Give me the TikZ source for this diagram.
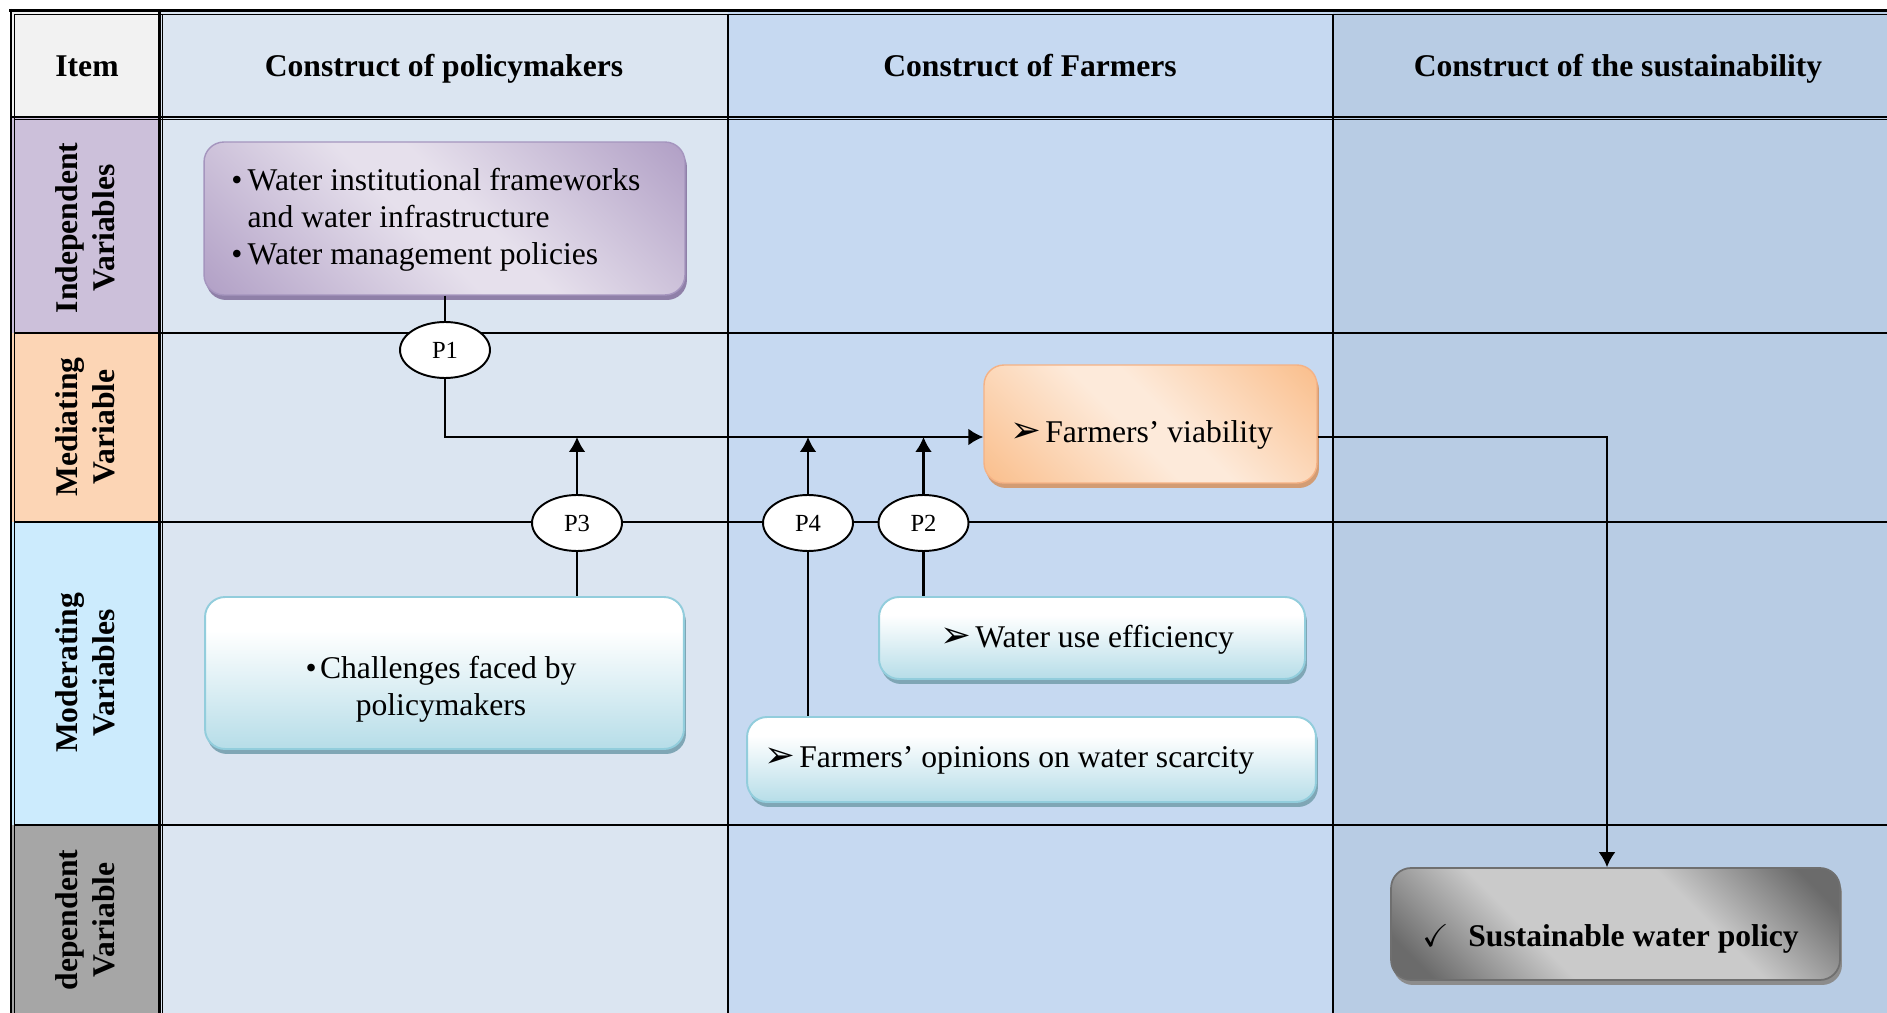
\documentclass[tikz,border=0pt]{standalone}
\usepackage{fontspec}
\setmainfont{Liberation Serif}
\newfontfamily\dejavu{DejaVu Sans}
\usepackage{amssymb}
\usetikzlibrary{arrows.meta,shadows,shapes.geometric}

% table colours
\definecolor{itemhd}{HTML}{F2F2F2}
\definecolor{colA}{HTML}{DBE5F1}
\definecolor{colB}{HTML}{C6D9F1}
\definecolor{colC}{HTML}{B8CCE4}
\definecolor{indepc}{HTML}{CCC0DA}
\definecolor{medc}{HTML}{FCD5B5}
\definecolor{modc}{HTML}{CCEBFD}
\definecolor{depc}{HTML}{A6A6A6}
% box colours
\definecolor{pdark}{HTML}{B3A2C7}
\definecolor{plight}{HTML}{E6E0EC}
\definecolor{pline}{HTML}{A595BE}
\definecolor{pshadow}{HTML}{8F80A8}
\definecolor{odark}{HTML}{FAC08F}
\definecolor{olight}{HTML}{FDEADA}
\definecolor{oline}{HTML}{F5B285}
\definecolor{oshadow}{HTML}{D29C74}
\definecolor{cdark}{HTML}{B6DDE8}
\definecolor{cline}{HTML}{92CDDC}
\definecolor{cshadow}{HTML}{7FA6B5}
\definecolor{gdark}{HTML}{6B6B6B}
\definecolor{glight}{HTML}{CACACA}
\definecolor{gline}{HTML}{6F6F6F}
\definecolor{gshadow}{HTML}{8C8C8C}

\pgfdeclarehorizontalshading{purplediag}{100bp}{color(0bp)=(pdark); color(16bp)=(pdark); color(46bp)=(plight); color(54bp)=(plight); color(84bp)=(pdark); color(100bp)=(pdark)}
\pgfdeclarehorizontalshading{orangediag}{100bp}{color(0bp)=(odark); color(16bp)=(odark); color(46bp)=(olight); color(54bp)=(olight); color(84bp)=(odark); color(100bp)=(odark)}
\pgfdeclarehorizontalshading{graydiag}{100bp}{color(0bp)=(gdark); color(20bp)=(gdark); color(38bp)=(glight); color(62bp)=(glight); color(80bp)=(gdark); color(100bp)=(gdark)}
\pgfdeclareverticalshading{cyanfade}{100bp}{color(0bp)=(cdark); color(25bp)=(cdark); color(64bp)=(white); color(100bp)=(white)}

\newcommand\txtsize{\fontsize{18}{21}\selectfont}
\newcommand\arrowbul{\makebox[0.7cm][l]{\dejavu\fontsize{21}{21}\selectfont ➢}}

\begin{document}
\begin{tikzpicture}[x=0.02cm, y=-0.02cm,
  txt/.style={font=\txtsize, inner sep=0pt},
  hd/.style={font=\txtsize\bfseries, inner sep=0pt, anchor=base},
  rowlab/.style={font=\txtsize\bfseries, rotate=90, align=center, inner sep=0pt},
  gridline/.style={line width=1.1pt},
  box/.style={rounded corners=0.4cm, inner sep=0pt, line width=0.8pt},
  pbox/.style={box, draw=pline, shade, shading=purplediag, shading angle=45,
    drop shadow={shadow xshift=0.04cm, shadow yshift=-0.1cm, fill=pshadow, opacity=1}},
  obox/.style={box, draw=oline, shade, shading=orangediag, shading angle=45,
    drop shadow={shadow xshift=0.04cm, shadow yshift=-0.1cm, fill=oshadow, opacity=1}},
  cbox/.style={box, draw=cline, line width=1.1pt, shade, shading=cyanfade,
    drop shadow={shadow xshift=0.04cm, shadow yshift=-0.1cm, fill=cshadow, opacity=1}},
  gbox/.style={box, draw=gline, line width=1pt, shade, shading=graydiag, shading angle=45,
    drop shadow={shadow xshift=0.04cm, shadow yshift=-0.1cm, fill=gshadow, opacity=1}},
  ell/.style={ellipse, draw, fill=white, line width=1.1pt, minimum width=1.8cm,
    minimum height=1.12cm, inner sep=0pt, font=\fontsize{14}{16}\selectfont},
  link/.style={line width=1.15pt},
  arrowlink/.style={link, -{Latex[length=8.5pt,width=9.5pt]}}
]
\useasboundingbox (0,0) rectangle (1887,1013);
\fill[white] (0,0) rectangle (1887,1013);
\begin{scope}
\clip (0,0) rectangle (1887,1013);

% column and cell backgrounds
\fill[colA] (158,12) rectangle (728,1030);
\fill[colB] (728,12) rectangle (1333,1030);
\fill[colC] (1333,12) rectangle (1900,1030);
\fill[itemhd] (12,12) rectangle (160,117);
\fill[indepc] (12,117) rectangle (160,333);
\fill[medc] (12,333) rectangle (160,522);
\fill[modc] (12,522) rectangle (160,825);
\fill[depc] (12,825) rectangle (160,1030);

% grid lines
\draw[gridline] (14.5,333) -- (1900,333);
\draw[gridline] (14.5,522) -- (1900,522);
\draw[gridline] (14.5,825) -- (1900,825);
\draw[gridline] (728,14.5) -- (728,1030);
\draw[gridline] (1333,14.5) -- (1333,1030);
% double rules: header, item column, outer frame
\draw[line width=1.4pt] (10,117) -- (1900,117);
\draw[line width=0.6pt] (14.5,119.8) -- (1900,119.8);
\draw[line width=1.6pt] (159.3,10) -- (159.3,1030);
\draw[line width=0.6pt] (162.5,14.5) -- (162.5,1030);
\draw[line width=1.7pt] (9,10.5) -- (1900,10.5);
\draw[line width=0.6pt] (14.5,14.5) -- (1900,14.5);
\draw[line width=1.4pt] (11,9) -- (11,1030);
\draw[line width=0.6pt] (14.5,14.5) -- (14.5,1030);

% header texts
\node[hd] (hitem) at (87,77) {Item};
\node[hd] (hpol) at (444,77) {Construct of policymakers};
\node[hd] (hfarm) at (1030,77) {Construct of Farmers};
\node[hd] (hsus) at (1618,77) {Construct of the sustainability};

% row labels
\node[rowlab] (lind) at (85,228) {Independent\\Variables};
\node[rowlab] (lmed) at (85,427) {Mediating\\Variable};
\node[rowlab] (lmod) at (85,673) {Moderating\\Variables};
\node[rowlab] (ldep) at (85,920) {dependent\\Variable};

% boxes
\node[pbox, minimum width=9.62cm, minimum height=3.06cm] (indep) at (444.5,218.5) {};
\node[cbox, minimum width=9.58cm, minimum height=3.04cm] (chal) at (444.5,673) {};
\node[obox, minimum width=6.66cm, minimum height=2.36cm] (fv) at (1150.5,424) {};
\node[cbox, minimum width=8.52cm, minimum height=1.64cm] (wue) at (1092,638) {};
\node[cbox, minimum width=11.38cm, minimum height=1.7cm] (opin) at (1031.5,759.5) {};
\node[gbox, minimum width=8.98cm, minimum height=2.24cm] (swp) at (1615.5,924) {};

% box texts
\node[txt, anchor=base west] (indeptext) at (231,191)
  {\begin{tabular}[t]{@{}l@{}l@{}}\textbullet\hspace{3pt} & Water institutional frameworks\\
   & and water infrastructure\\ \textbullet\hspace{3pt} & Water management policies\end{tabular}};
\node[txt, align=center] (chaltext) at (441,689) {\textbullet\hspace{2pt}Challenges faced by\\policymakers};
\node[txt, anchor=base west] (fvtext) at (1010,443) {\arrowbul Farmers’ viability};
\node[txt, anchor=base west] (wuetext) at (940,647) {\arrowbul Water use efficiency};
\node[txt, anchor=base west] (opintext) at (764,767) {\arrowbul Farmers’ opinions on water scarcity};
\node[txt, anchor=base west] (swptext) at (1422,946) {\makebox[0.92cm][l]{$\checkmark$}\textbf{Sustainable water policy}};

% proposition markers
\node[ell] (p1) at (445,350) {P1};
\node[ell] (p3) at (577,523) {P3};
\node[ell] (p4) at (808,523) {P4};
\node[ell] (p2) at (923.5,523) {P2};

% connectors
\coordinate (bus) at (445,437);
\coordinate (drop) at (1607,437);
\draw[link] (indep.south -| p1.north) -- (p1.north);
\draw[arrowlink] (p1.south) -- (bus) -- (bus -| fv.west);
\draw[arrowlink] (p3.north) -- (p3.north |- bus);
\draw[arrowlink] (p4.north) -- (p4.north |- bus);
\draw[arrowlink] (p2.north) -- (p2.north |- bus);
\draw[link] (p3.south) -- (p3.south |- chal.north);
\draw[link] (p4.south) -- (p4.south |- opin.north);
\draw[link] (p2.south) -- (p2.south |- wue.north);
\draw[arrowlink] (bus -| fv.east) -- (drop) -- (drop |- swp.north);
\end{scope}
\end{tikzpicture}
\end{document}
